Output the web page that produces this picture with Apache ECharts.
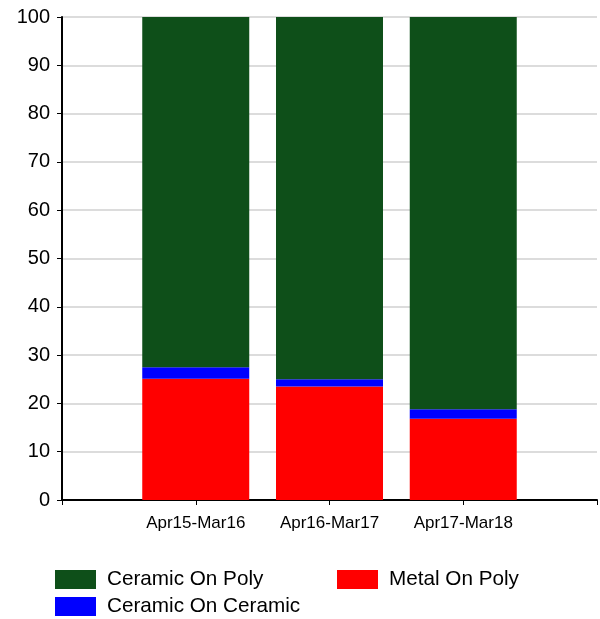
<!DOCTYPE html>
<html>
<head>
<meta charset="utf-8">
<script src="https://cdn.jsdelivr.net/npm/echarts@6/dist/echarts.min.js"></script>
<style>
  html, body { margin: 0; padding: 0; background: #fff; }
  #chart { width: 600px; height: 619px; }
</style>
</head>
<body>
<div id="chart"></div>
<script>
// empty slots at both ends so the bars sit on the tick marks
const categories = ["", "Apr15-Mar16", "Apr16-Mar17", "Apr17-Mar18", ""];
const metalOnPoly = ["-", 25.1, 23.5, 16.8, "-"];
const ceramicOnCeramic = ["-", 2.4, 1.5, 2.0, "-"];
const ceramicOnPoly = ["-", 72.5, 75.0, 81.2, "-"];

const myChart = echarts.init(document.getElementById("chart"));

const legendItem = (name, left, top) => ({
    left: left,
    top: top,
    itemWidth: 41,
    itemHeight: 19,
    itemStyle: { borderWidth: 0 },
    icon: "rect",
    textStyle: {
        color: "#000",
        fontSize: 20.7,
        fontFamily: "Liberation Sans, Arial",
        padding: [0, 0, 0, 6]
    },
    data: [name]
});

const option = {
    animation: false,
    textStyle: { fontFamily: "Liberation Sans, Arial" },
    grid: { left: 62, right: 3, top: 17, bottom: 119 },
    legend: [
        legendItem("Ceramic On Poly", 50, 564),
        legendItem("Metal On Poly", 332, 564),
        legendItem("Ceramic On Ceramic", 50, 591)
    ],
    xAxis: {
        type: "category",
        data: categories,
        boundaryGap: false,
        axisLine: { lineStyle: { color: "#000", width: 2 } },
        axisTick: { length: 5, lineStyle: { color: "#000" } },
        axisLabel: { color: "#000", fontSize: 17, margin: 15 }
    },
    yAxis: {
        type: "value",
        min: 0,
        max: 100,
        interval: 10,
        axisLine: { show: true, lineStyle: { color: "#000", width: 2 } },
        axisTick: { show: true, length: 5, lineStyle: { color: "#000" } },
        axisLabel: { color: "#000", fontSize: 20, margin: 12 },
        splitLine: { lineStyle: { color: "#dcdcdc", width: 2 } }
    },
    series: [
        {
            name: "Metal On Poly",
            type: "bar",
            stack: "total",
            barWidth: "80%",
            itemStyle: { color: "#ff0000" },
            data: metalOnPoly
        },
        {
            name: "Ceramic On Ceramic",
            type: "bar",
            stack: "total",
            barWidth: "80%",
            itemStyle: { color: "#0000ff" },
            data: ceramicOnCeramic
        },
        {
            name: "Ceramic On Poly",
            type: "bar",
            stack: "total",
            barWidth: "80%",
            itemStyle: { color: "#0e4f19" },
            data: ceramicOnPoly
        }
    ]
};

myChart.setOption(option);
</script>
</body>
</html>
